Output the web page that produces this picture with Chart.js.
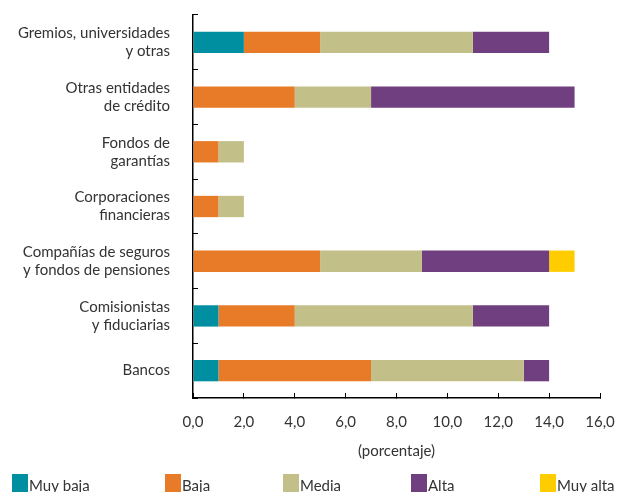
<!DOCTYPE html>
<html>
<head>
<meta charset="utf-8">
<script src="https://cdn.jsdelivr.net/npm/chart.js@4/dist/chart.umd.min.js"></script>
<style>
  html, body { margin: 0; padding: 0; overflow: hidden; background: #fff; }
</style>
</head>
<body>
<canvas id="chart" width="617" height="500"></canvas>
<script>
// categorías (de arriba hacia abajo)
const categories = [
    ['Gremios, universidades', 'y otras'],
    ['Otras entidades', 'de crédito'],
    ['Fondos de', 'garantías'],
    ['Corporaciones', 'financieras'],
    ['Compañías de seguros', 'y fondos de pensiones'],
    ['Comisionistas', 'y fiduciarias'],
    ['Bancos']
];
const seriesNames = ['Muy baja', 'Baja', 'Media', 'Alta', 'Muy alta'];
const muyBaja = [2, 0, 0, 0, 0, 1, 1];
const baja    = [3, 4, 1, 1, 5, 3, 6];
const media   = [6, 3, 1, 1, 4, 7, 6];
const alta    = [3, 8, 0, 0, 5, 3, 1];
const muyAlta = [0, 0, 0, 0, 1, 0, 0];
const xTickLabels = ['0,0', '2,0', '4,0', '6,0', '8,0', '10,0', '12,0', '14,0', '16,0'];

const colors = ['#008fa1', '#e87b27', '#c2c088', '#703f80', '#ffcc00'];
const textColor = '#333';
const fontFamily = 'Lato, "Open Sans", sans-serif';
const legendX = [12, 165, 283, 411, 540];

// leyenda dibujada abajo (cortada como en el original)
const bottomLegend = {
    id: 'bottomLegend',
    afterDraw(chart) {
        const ctx = chart.ctx;
        ctx.save();
        ctx.font = '15px ' + fontFamily;
        ctx.textBaseline = 'alphabetic';
        ctx.textAlign = 'left';
        chart.data.datasets.forEach((ds, i) => {
            const x = legendX[i];
            ctx.fillStyle = ds.backgroundColor;
            ctx.fillRect(x, 474, 16, 20);
            ctx.fillStyle = textColor;
            ctx.fillText(ds.label, x + 17, 491);
        });
        ctx.restore();
    }
};

const seriesData = [muyBaja, baja, media, alta, muyAlta];

new Chart(document.getElementById('chart'), {
    type: 'bar',
    data: {
        labels: categories,
        datasets: seriesNames.map((name, i) => ({
            label: name,
            data: seriesData[i],
            backgroundColor: colors[i],
            borderWidth: 0,
            categoryPercentage: 1,
            barPercentage: 0.39
        }))
    },
    options: {
        indexAxis: 'y',
        responsive: false,
        animation: false,
        layout: { padding: { top: 15, right: 0, bottom: 40, left: 0 } },
        plugins: {
            legend: { display: false },
            tooltip: { enabled: false }
        },
        scales: {
            x: {
                stacked: true,
                min: 0,
                max: 16,
                border: { color: '#000', width: 1.5 },
                grid: { drawOnChartArea: false, tickLength: -5, color: '#000', lineWidth: 1 },
                ticks: {
                    stepSize: 2,
                    padding: 20,
                    color: textColor,
                    font: { family: fontFamily, size: 15 },
                    callback: (v, i) => xTickLabels[i]
                },
                title: {
                    display: true,
                    text: '(porcentaje)',
                    color: textColor,
                    font: { family: fontFamily, size: 15 },
                    padding: { top: -9, bottom: 0 }
                },
                afterFit: s => { s.paddingLeft = 0; s.paddingRight = 17; }
            },
            y: {
                stacked: true,
                border: { color: '#000', width: 1.5 },
                grid: { drawOnChartArea: false, tickLength: -5, color: '#000', lineWidth: 1 },
                ticks: {
                    padding: 28,
                    color: textColor,
                    font: { family: fontFamily, size: 15, lineHeight: 1.2 }
                },
                afterFit: s => { s.width = 193; s.paddingTop = 0; s.paddingBottom = 0; }
            }
        }
    },
    plugins: [bottomLegend]
});
</script>
</body>
</html>
